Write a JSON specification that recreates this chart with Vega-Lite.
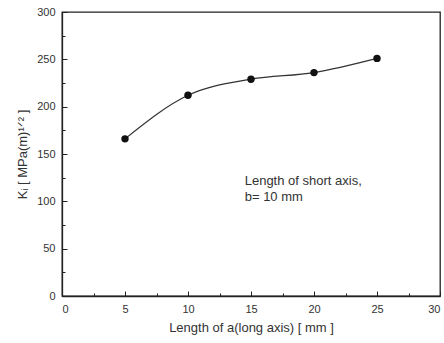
{
  "$schema": "https://vega.github.io/schema/vega-lite/v6.json",
  "width": 378,
  "height": 284,
  "autosize": {"type": "none"},
  "padding": {"left": 62, "top": 12, "right": 4, "bottom": 47},
  "background": "white",
  "config": {
    "view": {"stroke": "#222", "strokeWidth": 1.3},
    "font": "Liberation Sans",
    "axis": {"domainColor": "#222", "tickColor": "#222", "labelColor": "#333", "titleColor": "#333", "labelFont": "Liberation Sans", "titleFont": "Liberation Sans", "titleFontWeight": "normal", "labelFontSize": 11, "titleFontSize": 13, "grid": false, "domainWidth": 1.3}
  },
  "data": {"values": [
    {"a": 5, "K": 166},
    {"a": 10, "K": 212},
    {"a": 15, "K": 229},
    {"a": 20, "K": 236},
    {"a": 25, "K": 251}
  ]},
  "layer": [
    {
      "mark": {"type": "line", "interpolate": "monotone", "color": "#333", "strokeWidth": 1.2},
      "encoding": {
        "x": {"field": "a", "type": "quantitative", "scale": {"domain": [0, 30], "nice": false}, "axis": {"title": "Length of a(long axis) [ mm ]", "values": [0, 5, 10, 15, 20, 25, 30], "tickSize": -5, "labelPadding": 12, "titlePadding": 7}},
        "y": {"field": "K", "type": "quantitative", "scale": {"domain": [0, 300], "nice": false}, "axis": {"title": "Kᵢ  [ MPa(m)¹ᐟ² ]", "values": [0, 50, 100, 150, 200, 250, 300], "tickSize": -5, "labelPadding": 12, "titlePadding": 7}}
      }
    },
    {
      "mark": {"type": "point", "filled": true, "color": "#111", "size": 55, "opacity": 1},
      "encoding": {
        "x": {"field": "a", "type": "quantitative", "scale": {"domain": [0, 30], "nice": false}, "axis": {"orient": "bottom", "title": null, "labels": false, "domain": false, "values": [2.5, 7.5, 12.5, 17.5, 22.5, 27.5], "tickSize": -3}},
        "y": {"field": "K", "type": "quantitative", "scale": {"domain": [0, 300], "nice": false}, "axis": {"orient": "left", "title": null, "labels": false, "domain": false, "values": [25, 75, 125, 175, 225, 275], "tickSize": -3}}
      }
    },
    {
      "data": {"values": [
        {"x": 14.5, "y": 122, "t": "Length of short axis,"},
        {"x": 14.5, "y": 105, "t": "b= 10 mm"}
      ]},
      "mark": {"type": "text", "align": "left", "baseline": "middle", "fontSize": 13, "color": "#333", "font": "Liberation Sans"},
      "encoding": {
        "x": {"field": "x", "type": "quantitative", "axis": null},
        "y": {"field": "y", "type": "quantitative", "axis": null},
        "text": {"field": "t"}
      }
    }
  ],
  "resolve": {"axis": {"x": "independent", "y": "independent"}}
}
